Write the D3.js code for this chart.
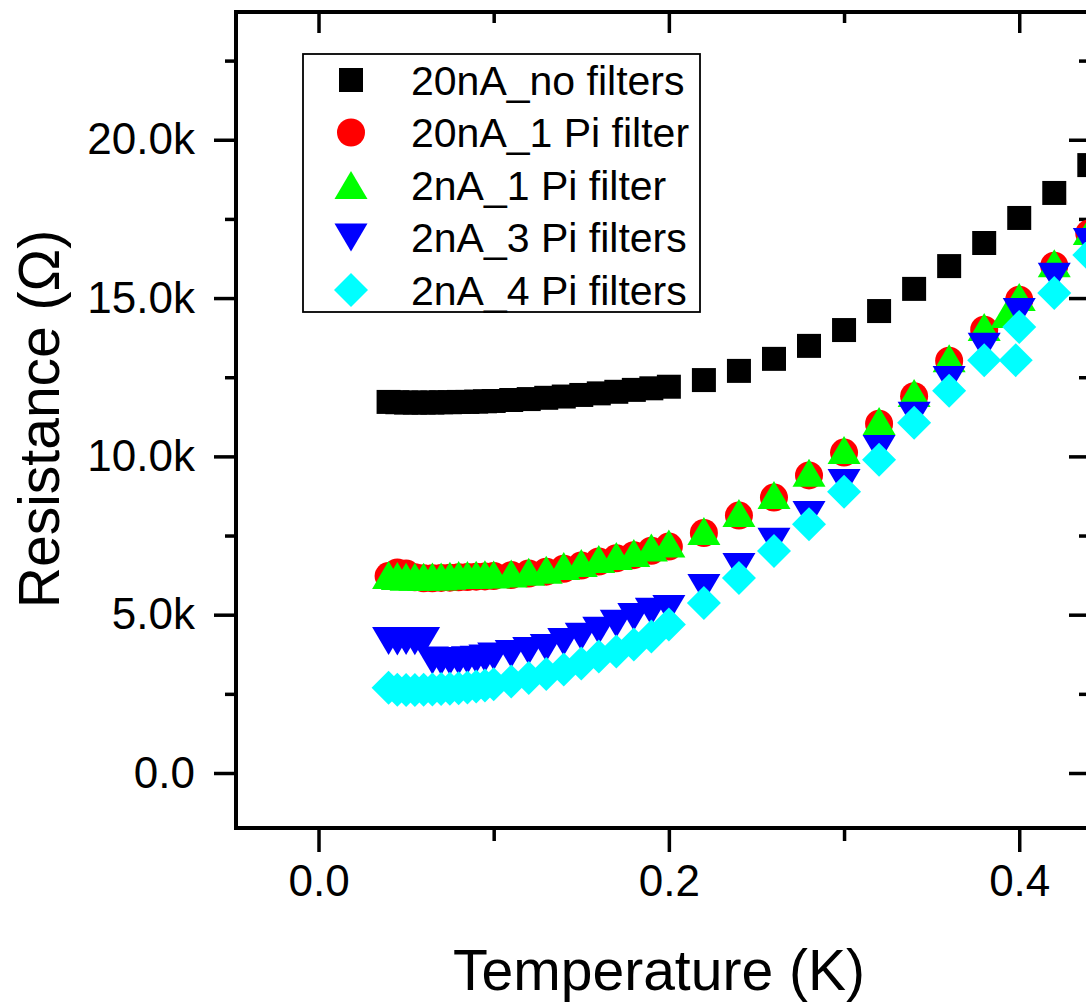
<!DOCTYPE html>
<html>
<head>
	<title>Resistance vs temperature</title>
	<script src="https://d3js.org/d3.v7.min.js" charset="utf-8"></script>
	<style>
    body {
        margin: 0;
        background: #fff;
    }
    text {
        font-family: "Liberation Sans", Arial, sans-serif;
        fill: #000;
    }
	</style>
</head>
<body>
<script>

// Temperature grid (K) shared by every series
var temps = [0.04, 0.045, 0.05, 0.055, 0.06, 0.065, 0.07, 0.075, 0.08, 0.085, 0.09, 0.095, 0.10,
             0.11, 0.12, 0.13, 0.14, 0.15, 0.16, 0.17, 0.18, 0.19, 0.20,
             0.22, 0.24, 0.26, 0.28, 0.30, 0.32, 0.34, 0.36, 0.38, 0.40, 0.42, 0.44];

// Resistance (Ohm), one value per temperature
var noFilters20nA = [11720, 11710, 11700, 11700, 11700, 11700, 11710, 11710, 11720, 11720, 11730, 11740, 11750,
                     11780, 11810, 11850, 11890, 11940, 11990, 12040, 12100, 12150, 12200,
                     12410, 12700, 13080, 13490, 13990, 14590, 15290, 16010, 16740, 17530, 18320, 19200];
var onePi20nA = [6220, 6330, 6300, 6180, 6150, 6150, 6160, 6170, 6180, 6190, 6200, 6210, 6220,
                 6250, 6300, 6360, 6450, 6550, 6680, 6780, 6880, 7020, 7150,
                 7580, 8130, 8700, 9400, 10120, 11030, 11900, 13020, 14000, 14950, 16020, 17040];
var onePi2nA = [6250, 6220, 6200, 6200, 6200, 6210, 6210, 6230, 6250, 6250, 6260, 6280, 6270,
                6300, 6360, 6420, 6540, 6630, 6760, 6850, 6950, 7120, 7250,
                7640, 8210, 8780, 9480, 10200, 11120, 12000, 13100, 14090, 15030, 16100, 17120];
var threePi2nA = [4170, 4150, 4170, 4160, 4170, 3550, 3530, 3530, 3540, 3560, 3580, 3620, 3680,
                  3760, 3850, 3950, 4140, 4300, 4490, 4710, 4930, 5090, 5180,
                  5840, 6510, 7300, 8150, 9160, 10230, 11280, 12410, 13460, 14560, 15670, 16770];
var fourPi2nA = [2690, 2630, 2620, 2620, 2630, 2640, 2650, 2660, 2680, 2700, 2730, 2760, 2800,
                 2890, 3000, 3130, 3270, 3460, 3680, 3840, 4060, 4310, 4690,
                 5370, 6160, 7010, 7860, 8880, 9890, 11060, 12070, 13040, 14090, 15160, 16360];

// a few points off the regular grid: [series index, T, R]
var extraPoints = [[2, 0.393, 14500], [4, 0.398, 13040]];

var seriesNames = ["20nA_no filters", "20nA_1 Pi filter", "2nA_1 Pi filter", "2nA_3 Pi filters", "2nA_4 Pi filters"];
var seriesValues = [noFilters20nA, onePi20nA, onePi2nA, threePi2nA, fourPi2nA];
var seriesColors = ["#000000", "#ff0000", "#00ff00", "#0000ff", "#00ffff"];
var seriesShapes = ["square", "circle", "up", "down", "diamond"];

var xTicks = [0.0, 0.2, 0.4];
var xMinor = [0.1, 0.3];
var yTicks = [0, 5000, 10000, 15000, 20000];
var yMinor = [2500, 7500, 12500, 17500, 22500];

var width = 1086,
    height = 1003;

var svg = d3.select("body")
    .append("svg")
    .attr("width", width)
    .attr("height", height);

// plot frame: right edge sits just past the picture
var frameL = 236, frameR = 1090, frameT = 12, frameB = 828;

var x = d3.scaleLinear().domain([-0.0471, 0.4404]).range([frameL, frameR]);
var y = d3.scaleLinear().domain([-1737, 24035]).range([frameB, frameT]);

function yFmt(d) {
    return d === 0 ? "0.0" : (d / 1000).toFixed(1) + "k";
}

// Axes with outward ticks (left, bottom)
svg.append("g")
    .attr("transform", "translate(0," + frameB + ")")
    .call(d3.axisBottom(x).tickValues(xTicks).tickSize(24).tickPadding(13).tickSizeOuter(0).tickFormat(d3.format(".1f")));
svg.append("g")
    .attr("transform", "translate(0," + frameB + ")")
    .call(d3.axisBottom(x).tickValues(xMinor).tickSize(13).tickSizeOuter(0).tickFormat(""));

svg.append("g")
    .attr("transform", "translate(" + frameL + ",0)")
    .call(d3.axisLeft(y).tickValues(yTicks).tickSize(22).tickPadding(19).tickSizeOuter(0).tickFormat(yFmt));
svg.append("g")
    .attr("transform", "translate(" + frameL + ",0)")
    .call(d3.axisLeft(y).tickValues(yMinor).tickSize(11).tickSizeOuter(0).tickFormat(""));

// Mirror axes with inward ticks (top, right)
svg.append("g")
    .attr("transform", "translate(0," + frameT + ")")
    .call(d3.axisTop(x).tickValues(xTicks).tickSize(-21).tickSizeOuter(0).tickFormat(""));
svg.append("g")
    .attr("transform", "translate(0," + frameT + ")")
    .call(d3.axisTop(x).tickValues(xMinor).tickSize(-11).tickSizeOuter(0).tickFormat(""));
svg.append("g")
    .attr("transform", "translate(" + frameR + ",0)")
    .call(d3.axisRight(y).tickValues(yTicks).tickSize(-21).tickSizeOuter(0).tickFormat(""));
svg.append("g")
    .attr("transform", "translate(" + frameR + ",0)")
    .call(d3.axisRight(y).tickValues(yMinor).tickSize(-11).tickSizeOuter(0).tickFormat(""));

svg.selectAll(".domain").remove();
svg.selectAll(".tick line").attr("stroke", "#000").attr("stroke-width", 3.5);
svg.selectAll(".tick text").attr("font-size", "44px").attr("fill", "#000")
    .attr("font-family", "'Liberation Sans', Arial, sans-serif");

// frame
svg.append("rect")
    .attr("x", frameL)
    .attr("y", frameT)
    .attr("width", frameR - frameL)
    .attr("height", frameB - frameT)
    .attr("fill", "none")
    .attr("stroke", "#000")
    .attr("stroke-width", 4);

// Axis titles
svg.append("text")
    .attr("x", 659)
    .attr("y", 990)
    .attr("text-anchor", "middle")
    .attr("font-size", "57px")
    .text("Temperature (K)");

svg.append("text")
    .attr("transform", "translate(59,419) rotate(-90)")
    .attr("text-anchor", "middle")
    .attr("font-size", "57px")
    .text("Resistance (\u03A9)");

// Symbol paths centred on their bounding box
function symbolPath(shape) {
    if (shape == "square") return "M-12,-12H12V12H-12Z";
    if (shape == "up") return "M0,-14L16.5,14H-16.5Z";
    if (shape == "down") return "M0,14L16.5,-14H-16.5Z";
    if (shape == "diamond") return "M0,-17L17,0L0,17L-17,0Z";
    return null;
}

function drawSymbol(sel, shape, color) {
    if (shape == "circle") {
        sel.append("circle").attr("r", 14).attr("fill", color);
    } else {
        sel.append("path").attr("d", symbolPath(shape)).attr("fill", color);
    }
}

// Data points, series drawn in order so the cyan ends on top
seriesValues.forEach(function(vals, s) {
    var pts = temps.map(function(t, i) { return [t, vals[i]]; });
    extraPoints.forEach(function(p) { if (p[0] == s) pts.push([p[1], p[2]]); });

    var g = svg.append("g").attr("class", "series-" + s);
    pts.forEach(function(p) {
        var m = g.append("g").attr("transform", "translate(" + x(p[0]) + "," + y(p[1]) + ")");
        drawSymbol(m, seriesShapes[s], seriesColors[s]);
    });
});

// Legend
var legend = svg.append("g");
legend.append("rect")
    .attr("x", 303)
    .attr("y", 54)
    .attr("width", 397)
    .attr("height", 258)
    .attr("fill", "#fff")
    .attr("stroke", "#000")
    .attr("stroke-width", 1.8);

seriesNames.forEach(function(name, i) {
    var cy = 80 + i * 52.5;
    var m = legend.append("g").attr("transform", "translate(351," + cy + ")");
    drawSymbol(m, seriesShapes[i], seriesColors[i]);
    legend.append("text")
        .attr("x", 411)
        .attr("y", cy)
        .attr("dy", "0.36em")
        .attr("font-size", "41px")
        .text(name);
});

</script>
</body>
</html>
